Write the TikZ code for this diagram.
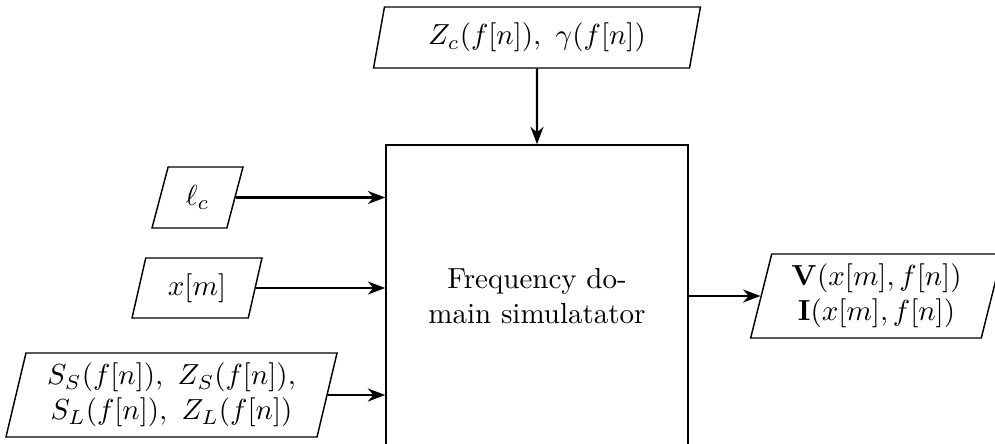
\documentclass[tikz,border=0pt]{standalone}
\usetikzlibrary{shapes.geometric,arrows.meta}
\begin{document}
\begin{tikzpicture}[x=0.012121cm,y=-0.012121cm,
  io/.style={draw,trapezium,trapezium left angle=75,trapezium right angle=105,
    trapezium stretches=true,align=center,inner sep=0pt,line width=0.5pt},
  blk/.style={draw,rectangle,align=center,line width=0.5pt,minimum width=3.66cm,minimum height=3.66cm},
  arr/.style={-{Stealth[length=6pt,width=4.5pt]},line width=0.8pt}]
\useasboundingbox (0,0) rectangle (995,444);
\node[blk] (sim) at (537,296) {Frequency do-\\main simulatator};
\node[io,minimum width=3.976cm,minimum height=0.739cm] (zc) at (537,37.5) {$Z_c(f[n]),\ \gamma(f[n])$};
\node[io,minimum width=1.103cm,minimum height=0.739cm] (lc) at (197.5,197.5) {$\ell_c$};
\node[io,minimum width=1.576cm,minimum height=0.727cm] (xm) at (197,288) {$x[m]$};
\node[io,minimum width=4.036cm,minimum height=1.018cm] (ss) at (171.5,395) {$S_S(f[n]),\ Z_S(f[n]),$\\$S_L(f[n]),\ Z_L(f[n])$};
\node[io,minimum width=3.07cm,minimum height=1.018cm] (out) at (876.5,296) {$\mathbf{V}(x[m],f[n])$\\$\mathbf{I}(x[m],f[n])$};
\draw[arr] (zc.south) -- (sim.north);
\draw[arr] (lc.east) -- (lc.east -| sim.west);
\draw[arr] (xm.east) -- (xm.east -| sim.west);
\draw[arr] (ss.east) -- (ss.east -| sim.west);
\draw[arr] (sim.east |- out.west) -- (out.west);
\end{tikzpicture}
\end{document}
